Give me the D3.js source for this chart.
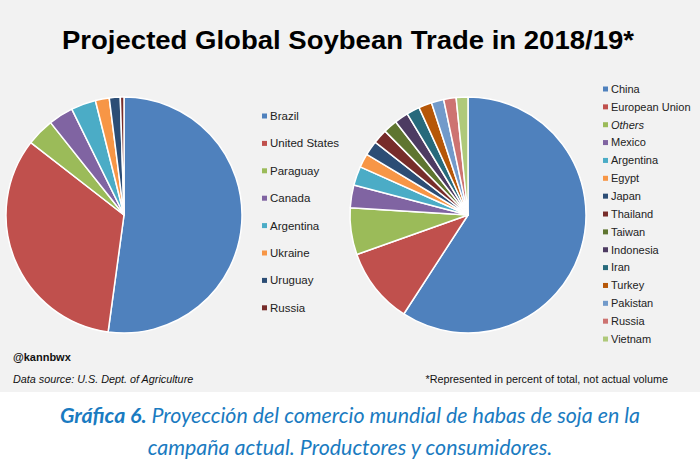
<!DOCTYPE html>
<html>
<head>
<meta charset="utf-8">
<script src="https://cdn.jsdelivr.net/npm/d3@7"></script>
<style>
  body { margin: 0; background: #fff; }
  svg text { font-family: Arial, "Liberation Sans", Helvetica, sans-serif; }
  svg text.caption { font-family: Lato, "Open Sans", sans-serif; }
</style>
</head>
<body>
<div id="chart-area"></div>
<script>
// Exporters (percent of total)
const exporters = ['Brazil', 'United States', 'Paraguay', 'Canada', 'Argentina', 'Ukraine', 'Uruguay', 'Russia'];
const exportShare = [52.2, 33.4, 3.8, 3.4, 3.4, 1.9, 1.5, 0.5];

// Importers (percent of total)
const importers = ['China', 'European Union', 'Others', 'Mexico', 'Argentina', 'Egypt', 'Japan', 'Thailand',
  'Taiwan', 'Indonesia', 'Iran', 'Turkey', 'Pakistan', 'Russia', 'Vietnam'];
const importShare = [59.1, 10.4, 6.4, 3.1, 2.6, 1.9, 2.0, 2.0, 1.9, 1.9, 1.8, 1.8, 1.7, 1.7, 1.6];

const palette = ['#4f81bd', '#c0504d', '#9bbb59', '#8064a2', '#4bacc6', '#f79646', '#2c4d75', '#772c2a',
  '#5f7530', '#4d3b62', '#276a7c', '#b65708', '#729aca', '#cd7371', '#afc97a'];

const width = 700;
const height = 462;

const svg = d3.select('#chart-area').append('svg')
  .attr('width', width)
  .attr('height', height);

// grey panel
svg.append('rect')
  .attr('width', width)
  .attr('height', 392)
  .attr('fill', '#f2f2f2');

svg.append('text')
  .attr('x', 62)
  .attr('y', 49)
  .attr('font-size', '26px')
  .attr('font-weight', 'bold')
  .attr('fill', '#000')
  .attr('textLength', 572)
  .attr('lengthAdjust', 'spacingAndGlyphs')
  .text('Projected Global Soybean Trade in 2018/19*');

const pie = d3.pie().sort(null);
const radius = 118;
const arc = d3.arc().innerRadius(0).outerRadius(radius);

const drawPie = (cx, cy, names, values) => {
  const g = svg.append('g')
    .attr('transform', `translate(${cx}, ${cy})`);
  const color = d3.scaleOrdinal().domain(names).range(palette);
  g.selectAll('path')
    .data(pie(values))
    .enter().append('path')
      .attr('d', arc)
      .attr('fill', (d, i) => color(names[i]))
      .attr('stroke', '#fff')
      .attr('stroke-width', 1.5)
      .attr('stroke-linejoin', 'round');
  return color;
};

const drawLegend = (x, y0, step, fontSize, names, color) => {
  const y = d3.scalePoint().domain(names).range([y0, y0 + step * (names.length - 1)]);
  const items = svg.append('g').selectAll('g')
    .data(names)
    .enter().append('g')
      .attr('transform', d => `translate(${x}, ${y(d)})`);
  items.append('rect')
    .attr('x', 0)
    .attr('y', -2.5)
    .attr('width', 5)
    .attr('height', 5)
    .attr('fill', d => color(d));
  items.append('text')
    .attr('x', 8)
    .attr('dy', '0.35em')
    .attr('font-size', fontSize)
    .attr('fill', '#222')
    .attr('font-style', d => d === 'Others' ? 'italic' : 'normal')
    .text(d => d);
};

const leftColor = drawPie(124, 215, exporters, exportShare);
drawLegend(262, 116, 27.4, '11.5px', exporters, leftColor);

const rightColor = drawPie(468, 215, importers, importShare);
drawLegend(603, 89, 17.86, '11px', importers, rightColor);

// footer texts
svg.append('text')
  .attr('x', 13)
  .attr('y', 361)
  .attr('font-size', '11px')
  .attr('font-weight', 'bold')
  .attr('fill', '#111')
  .text('@kannbwx');

svg.append('text')
  .attr('x', 13)
  .attr('y', 383)
  .attr('font-size', '10.8px')
  .attr('font-style', 'italic')
  .attr('fill', '#111')
  .text('Data source: U.S. Dept. of Agriculture');

svg.append('text')
  .attr('x', 668)
  .attr('y', 383)
  .attr('text-anchor', 'end')
  .attr('font-size', '10.8px')
  .attr('fill', '#111')
  .text('*Represented in percent of total, not actual volume');

// caption
const caption = svg.append('g')
  .attr('fill', '#1a7bc1')
  .attr('font-style', 'italic');

const line1 = caption.append('text')
  .attr('class', 'caption')
  .attr('x', 350)
  .attr('y', 423)
  .attr('text-anchor', 'middle')
  .attr('font-size', '21.4px');
line1.append('tspan').attr('font-weight', 'bold').text('Gráfica 6.');
line1.append('tspan').text(' Proyección del comercio mundial de habas de soja en la');

caption.append('text')
  .attr('class', 'caption')
  .attr('x', 350)
  .attr('y', 455)
  .attr('text-anchor', 'middle')
  .attr('font-size', '21.4px')
  .text('campaña actual. Productores y consumidores.');
</script>
</body>
</html>
